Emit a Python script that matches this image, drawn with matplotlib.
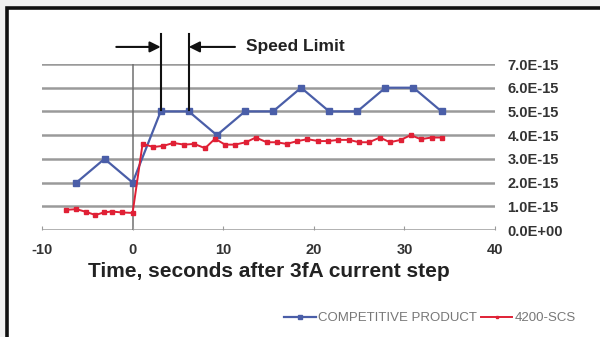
import matplotlib.pyplot as plt
from matplotlib.patches import Rectangle

plt.rcParams['font.family'] = ['Liberation Sans', 'DejaVu Sans']

# competitive product, sampled every ~3.1 s
comp_t = [-6.2, -3.1, 0.0, 3.1, 6.2, 9.3, 12.4, 15.5, 18.6, 21.7, 24.8, 27.9, 31.0, 34.1]
comp_val = [2.0, 3.0, 2.0, 5.0, 5.0, 4.0, 5.0, 5.0, 6.0, 5.0, 5.0, 6.0, 6.0, 5.0]

# 4200-SCS, sampled about once a second
scs_t = [-7.3, -6.2, -5.1, -4.1, -3.2, -2.3, -1.2, 0.0,
         1.1, 2.3, 3.4, 4.5, 5.7, 6.8, 8.0, 9.1, 10.2, 11.3, 12.5, 13.6, 14.8, 15.9,
         17.0, 18.2, 19.3, 20.5, 21.6, 22.7, 23.9, 25.0, 26.1, 27.3, 28.4, 29.6,
         30.7, 31.8, 33.0, 34.1]
scs_val = [0.85, 0.88, 0.76, 0.63, 0.74, 0.78, 0.74, 0.72,
           3.63, 3.5, 3.55, 3.67, 3.6, 3.63, 3.45, 3.85, 3.6, 3.6, 3.7, 3.9, 3.7, 3.7,
           3.63, 3.75, 3.83, 3.75, 3.75, 3.8, 3.8, 3.7, 3.7, 3.9, 3.7, 3.8, 4.0,
           3.83, 3.9, 3.9]

yticks = [0, 1, 2, 3, 4, 5, 6, 7]
ytick_labels = ['0.0E+00', '1.0E-15', '2.0E-15', '3.0E-15', '4.0E-15',
                '5.0E-15', '6.0E-15', '7.0E-15']
xticks = [-10, 0, 10, 20, 30, 40]

fig = plt.figure(figsize=(6.0, 3.37), dpi=100, facecolor='#f1f1f1')
# white panel with heavy black frame
fig.add_artist(Rectangle((7 / 600, -0.05), 1.1, 1 - 8 / 337 + 0.05,
                         transform=fig.transFigure, facecolor='white',
                         edgecolor='#111111', linewidth=2.6, zorder=0))

ax = fig.add_axes([42 / 600, 1 - 230 / 337, 453 / 600, 166 / 337])
ax.set_facecolor('none')
ax.set_xlim(-10, 40)
ax.set_ylim(0, 7)

for y in yticks:
    ax.axhline(y, color='#9a9a9a', linewidth=1.8, zorder=1)
ax.axvline(0, color='#707070', linewidth=1.1, zorder=1)

ax.plot(comp_t, comp_val, color='#4a5ea8', marker='s', markersize=5,
        linewidth=1.6, label='COMPETITIVE PRODUCT', zorder=3)
ax.plot(scs_t, scs_val, color='#e02035', marker='s', markersize=3,
        linewidth=1.4, label='4200-SCS', zorder=4)

for s in ax.spines.values():
    s.set_visible(False)
ax.set_xticks(xticks)
ax.set_xticklabels([str(v) for v in xticks], fontsize=10.5, fontweight='bold',
                   color='#333333')
ax.set_yticks(yticks)
ax.set_yticklabels(ytick_labels, fontsize=10.5, fontweight='bold', color='#333333')
ax.yaxis.tick_right()
ax.tick_params(axis='y', length=0, pad=9)
ax.tick_params(axis='x', direction='in', length=3, color='#9a9a9a', pad=9)
ax.set_xlabel('Time, seconds after 3fA current step', fontsize=15,
              fontweight='bold', color='#222222', labelpad=4)

# speed limit markers
for xv in (3.1, 6.2):
    ax.plot([xv, xv], [5.05, 8.25], color='#111111', linewidth=1.5, clip_on=False, zorder=5)
ax.annotate('', xy=(3.1, 7.72), xytext=(-1.8, 7.72),
            arrowprops=dict(arrowstyle='-|>', color='#111111', lw=1.5,
                            mutation_scale=16, shrinkA=0, shrinkB=0),
            annotation_clip=False)
ax.annotate('', xy=(6.2, 7.72), xytext=(11.3, 7.72),
            arrowprops=dict(arrowstyle='-|>', color='#111111', lw=1.5,
                            mutation_scale=16, shrinkA=0, shrinkB=0),
            annotation_clip=False)
ax.text(12.5, 7.72, 'Speed Limit', fontsize=12.5, fontweight='bold',
        color='#222222', va='center', ha='left')

ax.legend(loc='center', bbox_to_anchor=(430 / 600, 1 - 318 / 337),
          bbox_transform=fig.transFigure, ncol=2, frameon=False,
          fontsize=9.5, labelcolor='#777777', handlelength=2.4,
          handletextpad=0.15, columnspacing=0.3, markerscale=0.7)

plt.savefig('out.png', dpi=100, facecolor=fig.get_facecolor())
